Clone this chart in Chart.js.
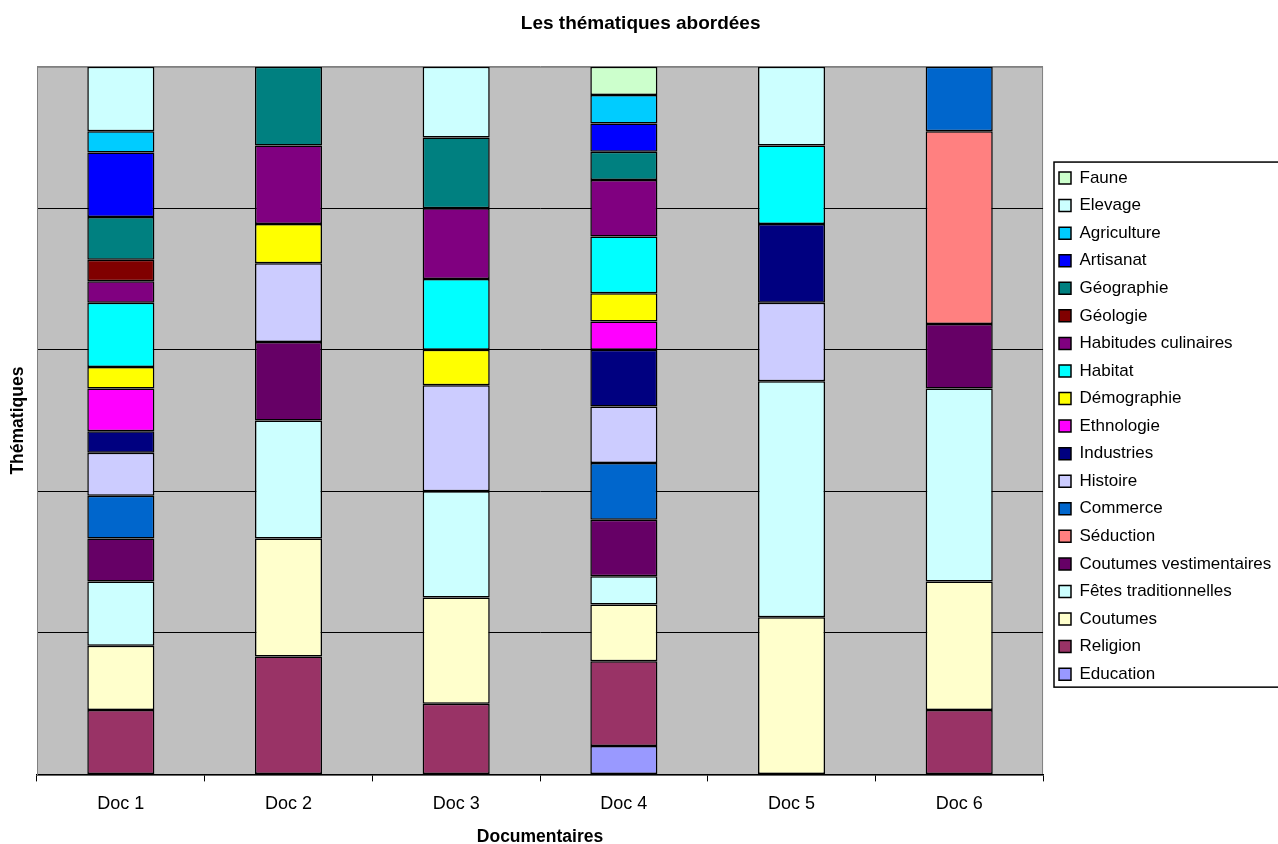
<!DOCTYPE html>
<html>
<head>
<meta charset="utf-8">
<title>Les thématiques abordées</title>
<script src="https://cdn.jsdelivr.net/npm/chart.js@4.4.1/dist/chart.umd.min.js"></script>
<style>
  html, body { margin: 0; padding: 0; background: #fff; }
  #wrap { width: 1278px; height: 844px; }
</style>
</head>
<body>
<div id="wrap"><canvas id="themeChart"></canvas></div>
<script>
const docs = ["Doc 1", "Doc 2", "Doc 3", "Doc 4", "Doc 5", "Doc 6"];

// number of sequences per theme in each documentary (Doc 1 .. Doc 6)
const education     = [0, 0, 0, 1, 0, 0];
const religion      = [3, 3, 2, 3, 0, 1];
const coutumes      = [3, 3, 3, 2, 2, 2];
const fetes         = [3, 3, 3, 1, 3, 3];
const vestimentaires = [2, 2, 0, 2, 0, 1];
const seduction     = [0, 0, 0, 0, 0, 3];
const commerce      = [2, 0, 0, 2, 0, 1];
const histoire      = [2, 2, 3, 2, 1, 0];
const industries    = [1, 0, 0, 2, 1, 0];
const ethnologie    = [2, 0, 0, 1, 0, 0];
const demographie   = [1, 1, 1, 1, 0, 0];
const habitat       = [3, 0, 2, 2, 1, 0];
const culinaires    = [1, 2, 2, 2, 0, 0];
const geologie      = [1, 0, 0, 0, 0, 0];
const geographie    = [2, 2, 2, 1, 0, 0];
const artisanat     = [3, 0, 0, 1, 0, 0];
const agriculture   = [1, 0, 0, 1, 0, 0];
const elevage       = [3, 0, 2, 0, 1, 0];
const faune         = [0, 0, 0, 1, 0, 0];

// stacking order, bottom first
const themes = [
  "Education", "Religion", "Coutumes", "Fêtes traditionnelles", "Coutumes vestimentaires",
  "Séduction", "Commerce", "Histoire", "Industries", "Ethnologie", "Démographie",
  "Habitat", "Habitudes culinaires", "Géologie", "Géographie", "Artisanat",
  "Agriculture", "Elevage", "Faune"
];
const series = [
  education, religion, coutumes, fetes, vestimentaires, seduction, commerce, histoire,
  industries, ethnologie, demographie, habitat, culinaires, geologie, geographie,
  artisanat, agriculture, elevage, faune
];
const colors = [
  "#9999FF", "#993366", "#FFFFCC", "#CCFFFF", "#660066", "#FF8080", "#0066CC", "#CCCCFF",
  "#000080", "#FF00FF", "#FFFF00", "#00FFFF", "#800080", "#800000", "#008080",
  "#0000FF", "#00CCFF", "#CCFFFF", "#CCFFCC"
];
const yTicks = [0, 20, 40, 60, 80, 100];

// 100% stacked: each documentary sums to 100
const totals = docs.map((d, i) => series.reduce((s, arr) => s + arr[i], 0));

const datasets = themes.map((name, k) => ({
  label: name,
  data: series[k].map((v, i) => (v > 0 ? (v / totals[i]) * 100 : null)),
  backgroundColor: colors[k],
  borderColor: "#000",
  borderWidth: 1.5,
  borderSkipped: false,
  categoryPercentage: 1,
  barPercentage: 0.4
}));

const plotBackground = {
  id: "plotBackground",
  beforeDraw(chart) {
    const { ctx, chartArea: a } = chart;
    ctx.save();
    ctx.fillStyle = "#C0C0C0";
    ctx.fillRect(a.left, a.top, a.right - a.left, a.bottom - a.top);
    ctx.strokeStyle = "#808080";
    ctx.lineWidth = 1;
    ctx.strokeRect(a.left + 0.5, a.top + 0.5, a.right - a.left - 1, a.bottom - a.top);
    ctx.restore();
  }
};

const legendFrame = {
  id: "legendFrame",
  afterDraw(chart) {
    const lg = chart.legend;
    if (!lg || !lg.legendHitBoxes.length) return;
    const boxes = lg.legendHitBoxes;
    const first = boxes[0];
    const last = boxes[boxes.length - 1];
    const ctx = chart.ctx;
    const left = first.left - 5;
    const top = first.top + first.height / 2 - 16;
    const bottom = last.top + last.height / 2 + 13;
    ctx.save();
    ctx.strokeStyle = "#000";
    ctx.lineWidth = 1.5;
    ctx.strokeRect(left, top, 1300 - left, bottom - top);
    ctx.restore();
  }
};

Chart.defaults.font.family = "'Liberation Sans', Arial, sans-serif";
Chart.defaults.color = "#000";

new Chart(document.getElementById("themeChart"), {
  type: "bar",
  data: { labels: docs, datasets: datasets },
  options: {
    responsive: true,
    maintainAspectRatio: false,
    animation: false,
    layout: { padding: { left: 0, right: -3.3, top: 0, bottom: -4 } },
    plugins: {
      title: {
        display: true,
        text: "Les thématiques abordées",
        font: { size: 19, weight: "bold" },
        padding: { top: 12, bottom: 32 }
      },
      legend: {
        position: "right",
        fullSize: false,
        reverse: true,
        title: { display: true, text: " ", font: { size: 11, lineHeight: 1 }, padding: 0 },
        labels: {
          font: { size: 17 },
          boxWidth: 12,
          boxHeight: 12,
          padding: 10.56,
          color: "#000"
        }
      },
      tooltip: { enabled: false }
    },
    scales: {
      x: {
        stacked: true,
        grid: {
          display: true,
          offset: true,
          drawOnChartArea: false,
          drawTicks: true,
          tickLength: 7,
          color: "#000"
        },
        border: { display: true, color: "#000", width: 1.5 },
        ticks: { font: { size: 18 }, padding: 12, color: "#000" },
        title: {
          display: true,
          text: "Documentaires",
          font: { size: 17.5, weight: "bold" },
          padding: { top: 0, bottom: 0 }
        }
      },
      y: {
        stacked: true,
        min: 0,
        max: 100,
        afterBuildTicks: (scale) => { scale.ticks = yTicks.map((v) => ({ value: v })); },
        grid: {
          drawTicks: false,
          color: (c) => (c.tick && c.tick.value === 100 ? "#808080" : "#000")
        },
        border: { display: true, color: "#808080" },
        ticks: { display: false },
        title: {
          display: true,
          text: "Thématiques",
          font: { size: 17.5, weight: "bold" },
          padding: { top: 8, bottom: 8 }
        }
      },
      gap: {
        type: "linear",
        position: "right",
        display: false,
        afterFit: (scale) => { scale.width = 5.4; }
      }
    }
  },
  plugins: [plotBackground, legendFrame]
});
</script>
</body>
</html>
